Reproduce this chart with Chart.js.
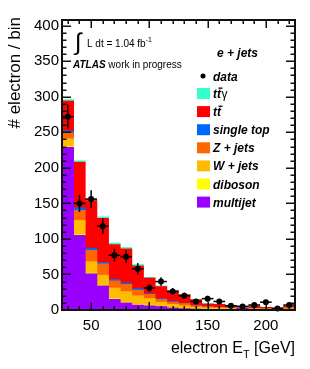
<!DOCTYPE html>
<html>
<head>
<meta charset="utf-8">
<script src="https://cdn.jsdelivr.net/npm/chart.js@4.4.1/dist/chart.umd.min.js"></script>
<style>
    html, body { margin: 0; padding: 0; background: #fff; }
    #wrap { width: 310px; height: 369px; }
</style>
</head>
<body>
<div id="wrap"><canvas id="etChart" width="310" height="369"></canvas></div>
<script>
// electron ET distribution, e + jets channel (10 GeV bins, 25-225 GeV)
const binCenters = [30, 40, 50, 60, 70, 80, 90, 100, 110, 120, 130, 140, 150, 160, 170, 180, 190, 200, 210, 220];

// stacked MC, bottom to top
const multijet  = [229, 105, 51, 34, 15, 10, 7, 6, 5, 3, 2, 1.5, 1, 1, 1, 3, 0.5, 0.5, 0.3, 0.5];
const diboson   = [1, 1, 1, 1, 1, 1, 1, 1, 0.5, 0.5, 0.5, 0.5, 0.3, 0.2, 0.2, 0.1, 0.1, 0.1, 0.1, 0.1];
const wJets     = [11, 20, 16, 14, 15, 15, 12, 9, 5.5, 4.5, 3.5, 2, 1.7, 1.5, 1, 0.5, 1, 0.5, 0.5, 1];
const zJets     = [8, 14, 16, 16, 10, 10, 8, 6, 4, 3, 3, 2, 1.5, 1, 1, 0.5, 1, 1, 0.5, 2];
const singleTop = [3, 4, 3, 2, 2, 2, 2, 1, 1, 1, 0.5, 0.5, 0.3, 0.3, 0.2, 0.2, 0.2, 0.2, 0.2, 0.2];
const ttbar     = [42, 64, 67, 62, 49, 48, 32, 22, 17, 15, 12, 8, 3.7, 4, 3, 1, 2.5, 1.5, 1.5, 1.5];
const ttGamma   = [2, 2, 2, 2, 2, 2, 2, 1, 1, 1, 0.5, 0.5, 0.5, 0.3, 0.3, 0.2, 0.2, 0.2, 0.2, 0.2];

// data with errors
const dataValues = [272, 150, 156, 118, 77, 75, 58, 31, 40, 26, 20, 12, 16, 12, 6, 5, 7, 11, 2, 7];
const dataErrors = [17, 12, 12.5, 11, 9, 9, 8, 5.5, 6, 5, 4.5, 3.5, 4, 3.5, 2.5, 2.2, 2.6, 3.3, 1.4, 2.6];

const xTicks = [50, 100, 150, 200];
const yTicks = [0, 50, 100, 150, 200, 250, 300, 350, 400];

const FONT = '"Liberation Sans", Arial, Helvetica, sans-serif';

const mcSamples = [
    { label: 'multijet',   values: multijet,  color: '#9900ff' },
    { label: 'diboson',    values: diboson,   color: '#ffff00' },
    { label: 'W + jets',   values: wJets,     color: '#ffbb00' },
    { label: 'Z + jets',   values: zJets,     color: '#ff6600' },
    { label: 'single top', values: singleTop, color: '#0066ff' },
    { label: 'tt',         values: ttbar,     color: '#ff0000' },
    { label: 'ttγ',        values: ttGamma,   color: '#33ffcc' }
];

// legend rows, top to bottom
const legendRows = ['ttγ', 'tt', 'single top', 'Z + jets', 'W + jets', 'diboson', 'multijet'];

// draws "tt" with a bar over the second t, plus any suffix
function drawTTbar(ctx, text, x, y) {
    const wT = ctx.measureText('t').width;
    ctx.fillText('t', x, y);
    ctx.fillText('t', x + wT, y);
    ctx.fillRect(x + wT + 1.5, y - 10.5, wT, 1.3);
    const rest = text.slice(2);
    if (rest) {
        ctx.save();
        ctx.font = '12px ' + FONT;
        ctx.fillText(rest, x + 2 * wT + 0.5, y);
        ctx.restore();
    }
}

const atlasDecor = {
    id: 'atlasDecor',
    afterDatasetsDraw(chart) {
        // data points with error bars
        const ctx = chart.ctx;
        const xs = chart.scales.x, ys = chart.scales.y;
        ctx.save();
        ctx.fillStyle = '#000';
        binCenters.forEach((c, i) => {
            const px = xs.getPixelForValue(c);
            const py = ys.getPixelForValue(dataValues[i]);
            const x1 = xs.getPixelForValue(c - 5), x2 = xs.getPixelForValue(c + 5);
            const yLo = ys.getPixelForValue(Math.max(0, dataValues[i] - dataErrors[i]));
            const yHi = ys.getPixelForValue(dataValues[i] + dataErrors[i]);
            ctx.fillRect(x1, py - 0.75, x2 - x1, 1.5);
            ctx.fillRect(px - 0.75, yHi, 1.5, yLo - yHi);
            ctx.beginPath();
            ctx.arc(px, py, 3, 0, Math.PI * 2);
            ctx.fill();
        });
        ctx.restore();
    },
    afterDraw(chart) {
        const ctx = chart.ctx;
        const a = chart.chartArea;
        const xs = chart.scales.x, ys = chart.scales.y;
        const L = Math.round(a.left), R = Math.round(a.right);
        const T = Math.round(a.top), B = Math.round(a.bottom);
        ctx.save();
        ctx.fillStyle = '#111';

        // frame
        ctx.fillRect(L - 1, T - 1, R - L + 2, 2);
        ctx.fillRect(L - 1, B - 1, R - L + 2, 2);
        ctx.fillRect(L - 1, T - 1, 2, B - T + 2);
        ctx.fillRect(R - 1, T - 1, 2, B - T + 2);

        // ticks on all four sides
        for (let v = 10; v <= 400; v += 10) {
            const py = Math.round(ys.getPixelForValue(v));
            const len = v % 50 === 0 ? 9 : 4.5;
            ctx.fillRect(L, py - 0.5, len, 1.5);
            ctx.fillRect(R - len, py - 0.5, len, 1.5);
        }
        for (let v = 30; v <= 220; v += 10) {
            const px = Math.round(xs.getPixelForValue(v));
            const len = v % 50 === 0 ? 8 : 4;
            ctx.fillRect(px - 0.5, B - len, 1.5, len);
            ctx.fillRect(px - 0.5, T, 1.5, len);
        }

        ctx.fillStyle = '#000';

        // axis titles
        ctx.save();
        ctx.font = '17px ' + FONT;
        ctx.translate(20, 17);
        ctx.rotate(-Math.PI / 2);
        ctx.textAlign = 'right';
        ctx.textBaseline = 'alphabetic';
        ctx.fillText('# electron / bin', 0, 0);
        ctx.restore();

        ctx.font = '16px ' + FONT;
        const t1 = 'electron E', t3 = ' [GeV]';
        const w1 = ctx.measureText(t1).width, w3 = ctx.measureText(t3).width;
        ctx.font = '11px ' + FONT;
        const w2 = ctx.measureText('T').width;
        const x0 = R - (w1 + w2 + w3);
        ctx.font = '16px ' + FONT;
        ctx.fillText(t1, x0, 353);
        ctx.font = '11px ' + FONT;
        ctx.fillText('T', x0 + w1, 358);
        ctx.font = '16px ' + FONT;
        ctx.fillText(t3, x0 + w1 + w2, 353);

        // luminosity and label
        ctx.font = '24px ' + FONT;
        ctx.fillText('∫', 75, 50);
        ctx.font = '10px ' + FONT;
        ctx.fillText('L dt = 1.04 fb', 87, 47);
        const wl = ctx.measureText('L dt = 1.04 fb').width;
        ctx.font = '7px ' + FONT;
        ctx.fillText('-1', 87 + wl, 42);

        ctx.font = 'italic bold 10px ' + FONT;
        ctx.fillText('ATLAS', 73, 68);
        const wa = ctx.measureText('ATLAS ').width;
        ctx.font = '10px ' + FONT;
        ctx.fillText('work in progress', 73 + wa, 68);

        ctx.font = 'italic bold 12px ' + FONT;
        ctx.fillText('e + jets', 217, 57);

        // legend
        ctx.beginPath();
        ctx.arc(203, 76, 2.5, 0, Math.PI * 2);
        ctx.fill();
        ctx.fillText('data', 213, 80.5);
        legendRows.forEach((name, i) => {
            const cy = 93.5 + i * 18.1;
            const s = mcSamples.find(m => m.label === name);
            ctx.fillStyle = s.color;
            ctx.fillRect(197, cy - 5.5, 13, 11);
            ctx.fillStyle = '#000';
            ctx.font = 'italic bold 12px ' + FONT;
            if (name.startsWith('tt')) {
                drawTTbar(ctx, name, 213, cy + 4.5);
            } else {
                ctx.fillText(name, 213, cy + 4.5);
            }
        });

        ctx.restore();
    }
};

const datasets = mcSamples.map(s => ({
    type: 'bar',
    label: s.label,
    data: binCenters.map((c, i) => ({ x: c, y: s.values[i] })),
    backgroundColor: s.color,
    borderWidth: 0,
    stack: 'mc',
    barPercentage: 1.0,
    categoryPercentage: 1.0
}));

new Chart(document.getElementById('etChart'), {
    type: 'bar',
    data: { datasets: datasets },
    options: {
        responsive: false,
        animation: false,
        events: [],
        layout: { padding: { top: 20, right: 15, left: 0, bottom: 0 } },
        plugins: {
            legend: { display: false },
            tooltip: { enabled: false }
        },
        scales: {
            x: {
                type: 'linear',
                min: 25,
                max: 225,
                offset: false,
                stacked: true,
                grid: { display: false, drawTicks: false },
                border: { display: false },
                afterBuildTicks: scale => { scale.ticks = xTicks.map(v => ({ value: v })); },
                afterFit: scale => { scale.height = 59; },
                ticks: {
                    color: '#000',
                    font: { family: FONT, size: 15 },
                    padding: 7,
                    maxRotation: 0
                }
            },
            y: {
                min: 0,
                max: 408,
                stacked: true,
                grid: { display: false, drawTicks: false },
                border: { display: false },
                afterBuildTicks: scale => { scale.ticks = yTicks.map(v => ({ value: v })); },
                afterFit: scale => { scale.width = 62; },
                ticks: {
                    color: '#000',
                    font: { family: FONT, size: 15 },
                    padding: 3
                }
            }
        }
    },
    plugins: [atlasDecor]
});
</script>
</body>
</html>
